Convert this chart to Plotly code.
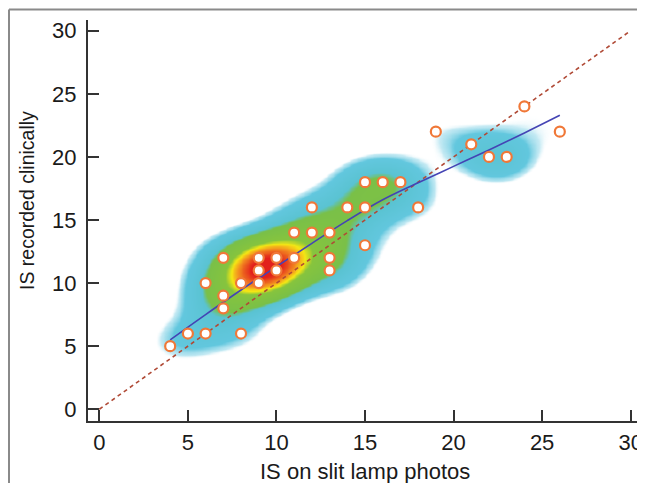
import numpy as np
import plotly.graph_objects as go

# ---- data ----
slit_lamp = [4, 5, 6, 6, 7, 7, 7, 8, 8, 9, 9, 9, 10, 10, 11, 11, 12, 12, 13, 13, 13,
             14, 15, 15, 15, 16, 17, 18, 19, 21, 22, 23, 24, 26]
clinical = [5, 6, 6, 10, 12, 9, 8, 10, 6, 12, 11, 10, 12, 11, 12, 14, 14, 16, 14, 12, 11,
            16, 18, 16, 13, 18, 18, 16, 22, 21, 20, 20, 24, 22]
# estimated number of overlapping observations at each point
counts = [1, 1, 1, 1, 2, 2, 2, 3, 1, 4, 5, 3, 4, 4, 3, 2, 2, 1, 2, 2, 2,
          2, 2, 2, 1, 2, 2, 1, 1, 1, 2, 2, 1, 1]

# smooth fit curve (blue)
fit_x = [4, 6, 8, 10, 12, 14, 16, 18, 20, 22, 24, 26]
fit_y = [5.5, 7.5, 9.45, 11.3, 13.15, 14.95, 16.6, 17.95, 19.25, 20.55, 21.9, 23.3]

# identity line
ident_x = [0, 30]
ident_y = [0, 30]

x_ticks = [0, 5, 10, 15, 20, 25, 30]
y_ticks = [0, 5, 10, 15, 20, 25, 30]

# ---- density (weighted Gaussian KDE of the observations) ----
h = 1.45
gx = np.arange(0, 30.01, 0.1)
gy = np.arange(0, 30.01, 0.1)
GX, GY = np.meshgrid(gx, gy)
D = np.zeros_like(GX)
for xi, yi, wi in zip(slit_lamp, clinical, counts):
    D += wi * np.exp(-((GX - xi) ** 2 + (GY - yi) ** 2) / (2 * h * h))

zmax = 19.0
lv = lambda v: v / zmax
cs = [
    [0.0, "rgba(255,255,255,0)"],
    [lv(1.35), "rgba(255,255,255,0)"],
    [lv(1.65), "rgba(170,224,238,0.7)"],
    [lv(2.3), "rgb(98,199,222)"],
    [lv(5.0), "rgb(90,195,210)"],
    [lv(5.8), "rgb(122,192,72)"],
    [lv(11.0), "rgb(135,196,62)"],
    [lv(12.8), "rgb(245,232,20)"],
    [lv(15.0), "rgb(244,146,32)"],
    [1.0, "rgb(226,32,28)"],
]

fig = go.Figure()
fig.add_trace(go.Heatmap(x=gx, y=gy, z=D, zmin=0, zmax=zmax, colorscale=cs,
                         showscale=False, zsmooth="best", hoverinfo="skip"))
fig.add_trace(go.Scatter(x=ident_x, y=ident_y, mode="lines",
                         line=dict(color="#b04a36", width=1.6, dash="4px,3.5px"),
                         showlegend=False))
fig.add_trace(go.Scatter(x=fit_x, y=fit_y, mode="lines",
                         line=dict(color="#4444b4", width=1.6, shape="spline"),
                         showlegend=False))
fig.add_trace(go.Scatter(x=slit_lamp, y=clinical, mode="markers",
                         marker=dict(symbol="circle", size=10, color="white",
                                     line=dict(color="#f07838", width=2.2)),
                         showlegend=False))

font_family = "Liberation Sans, Arial, sans-serif"
axis_common = dict(showline=True, linewidth=2, linecolor="#333", mirror=False,
                   ticks="inside", ticklen=11, tickwidth=2, tickcolor="#333",
                   showgrid=False, zeroline=False, automargin=False,
                   tickfont=dict(family=font_family, size=22, color="#1a1a1a"))

bx = (9 - 88) / 554
by = (421 - 9.5) / 401
frame = dict(color="#8a8a8a", width=2)

# page body has an 8px margin: figure is placed at (8, 8) in the window
fig.update_layout(
    width=637, height=475,
    margin=dict(l=80, r=3, t=12, b=62),
    paper_bgcolor="white", plot_bgcolor="white",
    xaxis=dict(range=[-0.64, 30.64], tickvals=x_ticks, ticklabelstandoff=1, **axis_common),
    yaxis=dict(range=[-0.93, 30.85], tickvals=y_ticks, ticklabelstandoff=5, **axis_common),
    shapes=[
        dict(type="line", xref="paper", yref="paper", x0=bx, x1=bx, y0=-0.3, y1=by,
             line=frame, layer="below"),
        dict(type="line", xref="paper", yref="paper", x0=bx, x1=1.05, y0=by, y1=by,
             line=frame, layer="below"),
    ],
    annotations=[
        dict(text="IS on slit lamp photos", xref="paper", yref="paper",
             x=(365 - 88) / 554, y=(421 - 471) / 401, xanchor="center", yanchor="middle",
             showarrow=False, font=dict(family=font_family, size=22, color="#1a1a1a")),
        dict(text="IS recorded clinically", xref="paper", yref="paper", textangle=-90,
             x=(27 - 88) / 554, y=(421 - 201) / 401, xanchor="center", yanchor="middle",
             showarrow=False, font=dict(family=font_family, size=19.5, color="#1a1a1a")),
    ],
)

fig.write_html("out.html")
